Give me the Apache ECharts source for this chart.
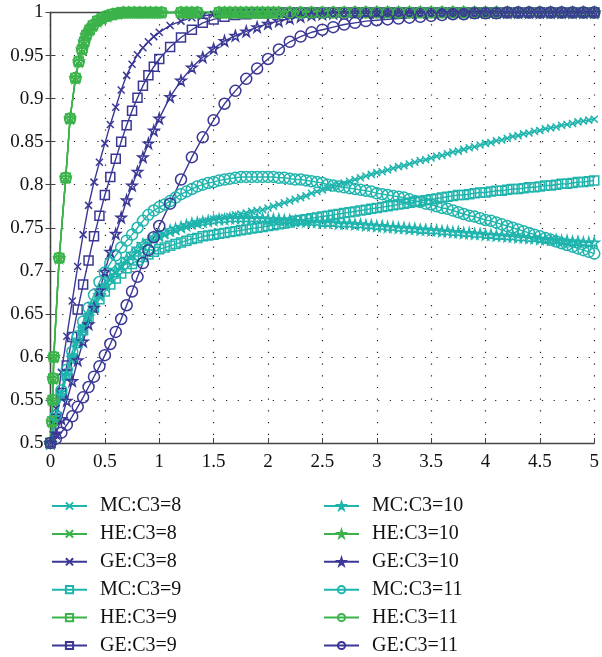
<!DOCTYPE html>
<html>
<head>
<meta charset="utf-8">
<script src="https://cdn.jsdelivr.net/npm/echarts@6/dist/echarts.min.js"></script>
<style>html,body{margin:0;padding:0;background:#fff;}#c{width:602px;height:657px;}</style>
</head>
<body>
<div id="c"></div>
<script>
// ---- data ----
const xMC = [0,0.05,0.1,0.15,0.2,0.25,0.3,0.35,0.4,0.45,0.5,0.55,0.6,0.65,0.7,0.75,0.8,0.85,0.9,0.95,
1,1.05,1.1,1.15,1.2,1.25,1.3,1.35,1.4,1.45,1.5,1.55,1.6,1.65,1.7,1.75,1.8,1.85,1.9,1.95,
2,2.05,2.1,2.15,2.2,2.25,2.3,2.35,2.4,2.45,2.5,2.55,2.6,2.65,2.7,2.75,2.8,2.85,2.9,2.95,
3,3.05,3.1,3.15,3.2,3.25,3.3,3.35,3.4,3.45,3.5,3.55,3.6,3.65,3.7,3.75,3.8,3.85,3.9,3.95,
4,4.05,4.1,4.15,4.2,4.25,4.3,4.35,4.4,4.45,4.5,4.55,4.6,4.65,4.7,4.75,4.8,4.85,4.9,4.95,5];

const mc8 = [0.5,0.53,0.557,0.58,0.6,0.618,0.634,0.648,0.661,0.672,
0.682,0.69,0.698,0.705,0.711,0.717,0.722,0.727,0.731,0.735,
0.738,0.741,0.744,0.746,0.749,0.751,0.753,0.755,0.757,0.758,
0.76,0.761,0.762,0.763,0.765,0.766,0.767,0.769,0.77,0.771,
0.773,0.775,0.777,0.779,0.781,0.783,0.785,0.787,0.79,0.792,
0.794,0.796,0.798,0.8,0.802,0.804,0.806,0.808,0.81,0.812,
0.814,0.815,0.817,0.819,0.821,0.822,0.824,0.826,0.828,0.829,
0.831,0.833,0.834,0.836,0.838,0.839,0.841,0.843,0.844,0.846,
0.848,0.849,0.851,0.852,0.854,0.856,0.857,0.859,0.86,0.862,
0.863,0.865,0.866,0.867,0.869,0.87,0.871,0.873,0.874,0.875,0.876];

const mc9 = [0.5,0.529,0.555,0.578,0.598,0.616,0.631,0.645,0.657,0.667,
0.676,0.684,0.691,0.697,0.703,0.708,0.712,0.716,0.719,0.722,
0.725,0.727,0.729,0.731,0.733,0.735,0.737,0.738,0.74,0.741,
0.742,0.743,0.744,0.745,0.746,0.747,0.748,0.749,0.75,0.751,
0.752,0.753,0.754,0.755,0.756,0.758,0.759,0.76,0.761,0.762,
0.763,0.764,0.765,0.766,0.767,0.768,0.769,0.77,0.771,0.772,
0.773,0.774,0.775,0.776,0.777,0.778,0.779,0.78,0.781,0.782,
0.783,0.784,0.785,0.786,0.787,0.788,0.788,0.789,0.79,0.791,
0.791,0.792,0.793,0.793,0.794,0.795,0.795,0.796,0.797,0.797,
0.798,0.799,0.799,0.8,0.801,0.801,0.802,0.803,0.803,0.804,0.805];

const mc10 = [0.5,0.529,0.556,0.579,0.599,0.617,0.633,0.647,0.66,0.672,
0.683,0.692,0.7,0.707,0.714,0.72,0.726,0.731,0.735,0.739,
0.742,0.745,0.747,0.749,0.751,0.753,0.755,0.756,0.757,0.758,
0.759,0.76,0.76,0.761,0.761,0.761,0.761,0.761,0.761,0.761,
0.76,0.76,0.76,0.759,0.759,0.758,0.758,0.757,0.757,0.757,
0.756,0.756,0.756,0.755,0.755,0.755,0.754,0.754,0.753,0.753,
0.752,0.752,0.751,0.751,0.75,0.75,0.749,0.749,0.748,0.748,
0.747,0.747,0.746,0.746,0.745,0.745,0.744,0.744,0.743,0.743,
0.742,0.742,0.741,0.741,0.74,0.74,0.739,0.739,0.738,0.738,
0.737,0.737,0.736,0.736,0.735,0.735,0.734,0.734,0.733,0.733,0.733];

const mc11 = [0.5,0.532,0.561,0.585,0.606,0.624,0.641,0.657,0.672,0.687,
0.698,0.709,0.718,0.727,0.735,0.742,0.75,0.758,0.765,0.77,
0.774,0.777,0.781,0.785,0.789,0.792,0.795,0.798,0.8,0.802,
0.803,0.805,0.806,0.807,0.808,0.809,0.809,0.809,0.809,0.809,
0.809,0.809,0.808,0.808,0.807,0.806,0.806,0.805,0.804,0.803,
0.802,0.8,0.799,0.798,0.797,0.796,0.795,0.794,0.793,0.792,
0.79,0.789,0.788,0.787,0.786,0.785,0.783,0.781,0.78,0.778,
0.777,0.775,0.773,0.772,0.77,0.768,0.766,0.764,0.763,0.761,
0.759,0.758,0.756,0.754,0.752,0.75,0.748,0.746,0.744,0.742,
0.74,0.738,0.736,0.734,0.732,0.73,0.728,0.726,0.724,0.722,0.72];

const xGE = [0,0.05,0.1,0.15,0.2,0.25,0.3,0.35,0.4,0.45,0.5,0.55,0.6,0.65,0.7,0.75,0.8,0.85,0.9,0.95,1,
1.1,1.2,1.3,1.4,1.5,1.6,1.7,1.8,1.9,2,2.1,2.2,2.3,2.4,2.5,2.6,2.7,2.8,2.9,3,
3.1,3.2,3.3,3.4,3.5,3.6,3.7,3.8,3.9,4,4.1,4.2,4.3,4.4,4.5,4.6,4.7,4.8,4.9,5];

const ge8 = [0.5,0.54,0.582,0.624,0.665,0.705,0.742,0.776,0.803,0.826,0.848,0.87,0.89,0.91,0.927,0.94,0.951,0.959,0.966,0.972,0.977,
0.985,0.99,0.994,0.996,0.998,0.999,0.999,1,1,1,1,1,1,1,1,1,1,1,1,1,
1,1,1,1,1,1,1,1,1,1,1,1,1,1,1,1,1,1,1,1];

const ge9 = [0.5,0.528,0.558,0.59,0.623,0.655,0.684,0.712,0.74,0.764,0.788,0.809,0.83,0.85,0.869,0.886,0.901,0.915,0.927,0.937,0.946,
0.96,0.971,0.98,0.988,0.992,0.995,0.997,0.998,0.999,0.999,1,1,1,1,1,1,1,1,1,1,
1,1,1,1,1,1,1,1,1,1,1,1,1,1,1,1,1,1,1,1];

const ge10 = [0.5,0.511,0.528,0.549,0.572,0.596,0.618,0.638,0.657,0.677,0.699,0.722,0.743,0.762,0.782,0.799,0.815,0.832,0.848,0.863,0.877,
0.902,0.921,0.936,0.948,0.958,0.967,0.973,0.978,0.983,0.987,0.99,0.993,0.995,0.997,0.998,0.999,0.999,1,1,1,
1,1,1,1,1,1,1,1,1,1,1,1,1,1,1,1,1,1,1,1];

const ge11 = [0.5,0.505,0.512,0.521,0.531,0.542,0.553,0.565,0.577,0.589,0.602,0.615,0.629,0.644,0.66,0.676,0.693,0.709,0.724,0.739,0.752,
0.778,0.806,0.832,0.855,0.875,0.894,0.909,0.923,0.935,0.946,0.957,0.966,0.972,0.977,0.98,0.983,0.986,0.988,0.99,0.991,
0.992,0.993,0.994,0.995,0.996,0.997,0.998,0.998,0.999,0.999,0.999,1,1,1,1,1,1,1,1,1];

const heX = [0,0.015,0.02,0.025,0.03,0.08,0.14,0.18,0.23,0.26,0.29,0.31,0.33,0.36,0.39,0.43,0.47,0.52,0.57,0.62,
0.67,0.72,0.77,0.82,0.87,0.92,0.97,1.02,1.2,1.25,1.3,1.35,1.55,1.6,1.65,1.7,1.75,1.8,1.85,1.9,1.95,2,2.05,2.1,
2.2,2.3,2.4,2.5,2.6,2.7,2.8,2.9,3,3.1,3.2,3.3,3.4,3.5,3.6,3.7,3.8,3.9,4,4.1,4.2,4.3,4.4,4.5,4.6,4.7,4.8,4.9,5];
const heY = [0.5,0.525,0.55,0.575,0.6,0.715,0.808,0.877,0.924,0.943,0.957,0.966,0.974,0.98,0.985,0.99,0.993,0.996,0.998,0.999,
1,1,1,1,1,1,1,1,1,1,1,1,1,1,1,1,1,1,1,1,1,1,1,1,
1,1,1,1,1,1,1,1,1,1,1,1,1,1,1,1,1,1,1,1,1,1,1,1,1,1,1,1,1];

const xTicks = [0,0.5,1,1.5,2,2.5,3,3.5,4,4.5,5];
const yTicks = [0.5,0.55,0.6,0.65,0.7,0.75,0.8,0.85,0.9,0.95,1];

const legendLeft = ['MC:C3=8','HE:C3=8','GE:C3=8','MC:C3=9','HE:C3=9','GE:C3=9'];
const legendRight = ['MC:C3=10','HE:C3=10','GE:C3=10','MC:C3=11','HE:C3=11','GE:C3=11'];

// ---- styles ----
const TEAL = '#1fb4ad', GREEN = '#3bb34a', BLUE = '#3a3795';
const SYM_X = 'path://M0,0L10,10M10,0L0,10';
const SYM_STAR = 'path://M50,2L61,37L98,37L68,59L79,95L50,73L21,95L32,59L2,37L39,37Z';
const FONT = 'Liberation Serif';

function zip(xs, ys) { return xs.map((x, i) => [x, ys[i]]); }
function mk(name, xs, ys, color, symbol, size) {
  return {
    name: name, type: 'line', data: zip(xs, ys),
    symbol: symbol, symbolSize: size, clip: false,
    showAllSymbol: true,
    lineStyle: { color: color, width: 1.4 },
    itemStyle: { color: 'rgba(255,255,255,0)', borderColor: color, borderWidth: 1.5 },
    emphasis: { disabled: true }, silent: true
  };
}

const series = [
  mk('MC:C3=8', xMC, mc8, TEAL, SYM_X, 7),
  mk('HE:C3=8', heX, heY, GREEN, SYM_X, 7),
  mk('GE:C3=8', xGE, ge8, BLUE, SYM_X, 7),
  mk('MC:C3=9', xMC, mc9, TEAL, 'rect', 9),
  mk('HE:C3=9', heX, heY, GREEN, 'rect', 9),
  mk('GE:C3=9', xGE, ge9, BLUE, 'rect', 9),
  mk('MC:C3=10', xMC, mc10, TEAL, SYM_STAR, 10),
  mk('HE:C3=10', heX, heY, GREEN, SYM_STAR, 10),
  mk('GE:C3=10', xGE, ge10, BLUE, SYM_STAR, 10),
  mk('MC:C3=11', xMC, mc11, TEAL, 'circle', 11),
  mk('HE:C3=11', heX, heY, GREEN, 'circle', 11),
  mk('GE:C3=11', xGE, ge11, BLUE, 'circle', 11)
];

const axisLine = { show: true, lineStyle: { color: '#444', width: 1.3 } };
const gridDots = { show: true, lineStyle: { color: '#222', width: 1.2, type: [1.2, 10.5] } };
const legendText = { fontFamily: FONT, fontSize: 20, color: '#111', padding: [0, 0, 0, 8] };

const chart = echarts.init(document.getElementById('c'), null, { renderer: 'canvas' });
chart.setOption({
  animation: false,
  backgroundColor: '#fff',
  grid: { left: 50.5, right: 5.5, top: 12.5, bottom: 214, containLabel: false },
  xAxis: [
    { type: 'value', position: 'bottom', min: 0, max: 5, interval: 0.5,
      axisLine: axisLine, axisTick: { show: true, inside: true, length: 5, lineStyle: { color: '#444' } },
      axisLabel: { fontFamily: FONT, fontSize: 19, color: '#111', margin: 10,
        formatter: v => xTicks.indexOf(v) >= 0 ? String(v) : '' },
      splitLine: gridDots },
    { type: 'value', position: 'top', min: 0, max: 5, interval: 0.5,
      axisLine: axisLine, axisTick: { show: true, inside: true, length: 5, lineStyle: { color: '#444' } },
      axisLabel: { show: false }, splitLine: { show: false } }
  ],
  yAxis: [
    { type: 'value', position: 'left', min: 0.5, max: 1, interval: 0.05,
      axisLine: axisLine, axisTick: { show: true, inside: true, length: 5, lineStyle: { color: '#444' } },
      axisLabel: { fontFamily: FONT, fontSize: 19, color: '#111', margin: 7,
        formatter: v => { const t = yTicks.find(k => Math.abs(k - v) < 1e-6); return t === undefined ? '' : String(t); } },
      splitLine: gridDots },
    { type: 'value', position: 'right', min: 0.5, max: 1, interval: 0.05,
      axisLine: axisLine, axisTick: { show: true, inside: true, length: 5, lineStyle: { color: '#444' } },
      axisLabel: { show: false }, splitLine: { show: false } }
  ],
  legend: [
    { orient: 'vertical', left: 51, top: 496, height: 160, width: 250, padding: 0,
      itemWidth: 35, itemHeight: 9, itemGap: 7.9,
      selectedMode: false, data: legendLeft, textStyle: legendText },
    { orient: 'vertical', left: 323, top: 496, height: 160, width: 250, padding: 0,
      itemWidth: 35, itemHeight: 9, itemGap: 7.9,
      selectedMode: false, data: legendRight, textStyle: legendText }
  ],
  series: series
});
</script>
</body>
</html>
